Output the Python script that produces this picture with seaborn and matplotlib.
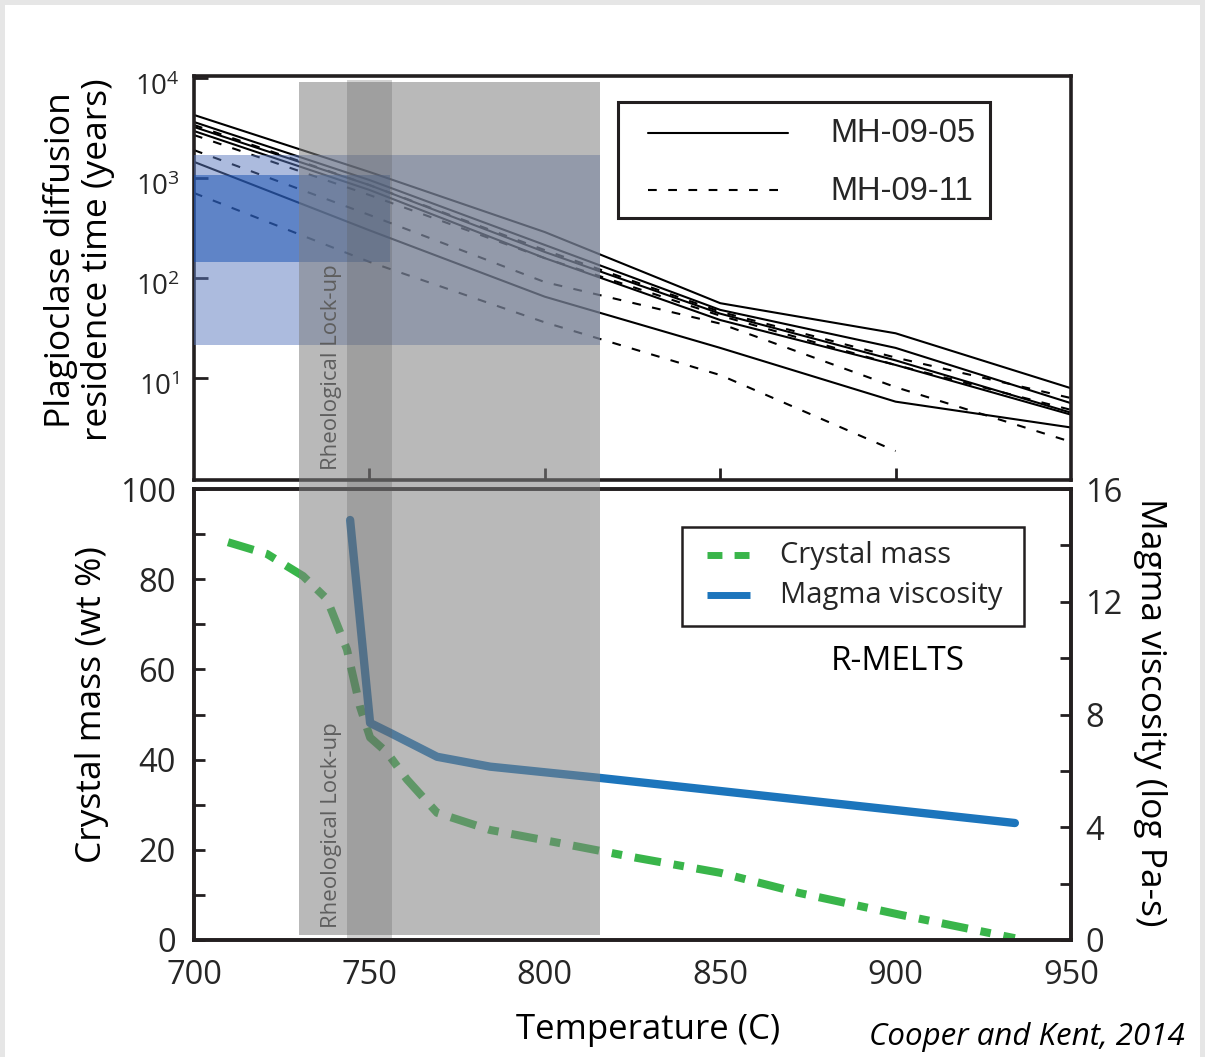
import matplotlib
matplotlib.use("Agg")
import matplotlib.pyplot as plt
import matplotlib.transforms as mtransforms
from matplotlib.patches import Rectangle
from matplotlib.lines import Line2D
from matplotlib.ticker import FixedLocator, MultipleLocator, NullLocator
import pandas as pd
import seaborn as sns

# ---------------- data ----------------
temperature_c = [700, 750, 800, 850, 900, 950]
mh0905_a = [4270, 1150, 288, 56, 28, 7.9]
mh0905_b = [3630, 955, 214, 48, 20, 5.6]
mh0905_c = [3240, 850, 182, 44, 15, 4.5]
mh0905_d = [2950, 760, 158, 38, 13.5, 4.3]
mh0905_e = [1450, 300, 65, 20, 5.8, 3.2]
mh0911_a = [3390, 850, 190, 46, 16, 6.3]
mh0911_b = [2690, 676, 158, 42, 13.5, 4.8]
mh0911_c = [1900, 427, 91, 35, 8.1, 2.3]
mh0911_d = [708, 145, 36, 10.7, 1.86]          # ends at 900 C

crystal_temp_c = [709.7, 720.8, 731.1, 737.9, 743.6, 747.3, 750.2, 755.0, 760.7,
                  769.3, 784.4, 803.5, 826.3, 850.0, 872.7, 901.3, 934.0]
crystal_mass_wt = [88.2, 85.6, 80.7, 75.6, 64.4, 51.8, 44.9, 41.6, 35.6,
                   28.2, 24.4, 21.6, 18.2, 14.9, 10.4, 5.6, 0.4]
viscosity_temp_c = [744.5, 750.2, 755.9, 769.3, 784.4, 815.7, 934.0]
viscosity_log_pas = [14.9, 7.7, 7.35, 6.5, 6.15, 5.75, 4.15]

lockup_band_c = [729.9, 815.7]
lockup_core_c = [743.6, 756.4]
residence_box_c = [700, 815.7]
residence_box_yr = [21.4, 1700]
residence_core_c = [700, 755.9]
residence_core_yr = [145, 1070]

x_ticks = [700, 750, 800, 850, 900, 950]
top_labels = ["MH-09-05", "MH-09-11"]
bottom_labels = ["Crystal mass", "Magma viscosity"]

# ---------------- style ----------------
sns.set_style("white")
plt.rcParams["font.family"] = ["Open Sans", "DejaVu Sans"]
plt.rcParams["mathtext.default"] = "regular"
INK = "#231f20"
GREEN = "#39b54a"
BLUE = "#1c75bc"

W, H = 1205, 1057
fig = plt.figure(figsize=(W / 100, H / 100), dpi=100, facecolor="#e6e6e6")
fig.add_artist(Rectangle((5 / W, 0), (W - 10) / W, (H - 5) / H, transform=fig.transFigure,
                         facecolor="white", edgecolor="none", zorder=-5))


def fx(px):
    return px / W


def fy(py):
    return (H - py) / H


ax1 = fig.add_axes([fx(194), fy(480), fx(1071) - fx(194), fy(76) - fy(480)])
ax2 = fig.add_axes([fx(194), fy(940), fx(1071) - fx(194), fy(489) - fy(940)])
for a in (ax1, ax2):
    a.set_facecolor("white")

# ---------------- top panel ----------------
rows = []
for lid, sample, vals in [("a5", top_labels[0], mh0905_a), ("b5", top_labels[0], mh0905_b),
                          ("c5", top_labels[0], mh0905_c), ("d5", top_labels[0], mh0905_d),
                          ("e5", top_labels[0], mh0905_e), ("a11", top_labels[1], mh0911_a),
                          ("b11", top_labels[1], mh0911_b), ("c11", top_labels[1], mh0911_c),
                          ("d11", top_labels[1], mh0911_d)]:
    for t, v in zip(temperature_c, vals):
        rows.append({"T": t, "years": v, "line": lid, "sample": sample})
df_top = pd.DataFrame(rows)

ax1.set_yscale("log")
DASH = (4.2, 5.5)
sns.lineplot(data=df_top, x="T", y="years", units="line", style="sample",
             style_order=top_labels, estimator=None, color="black",
             lw=1.5, dashes={top_labels[0]: "", top_labels[1]: DASH}, legend=False,
             sort=False, ax=ax1)

ax1.add_patch(Rectangle((residence_box_c[0], residence_box_yr[0]),
                        residence_box_c[1] - residence_box_c[0],
                        residence_box_yr[1] - residence_box_yr[0],
                        facecolor=(90 / 255, 120 / 255, 190 / 255), alpha=0.5, lw=0, zorder=3))
ax1.add_patch(Rectangle((residence_core_c[0], residence_core_yr[0]),
                        residence_core_c[1] - residence_core_c[0],
                        residence_core_yr[1] - residence_core_yr[0],
                        facecolor=(20 / 255, 78 / 255, 178 / 255), alpha=0.5, lw=0, zorder=3))

ax1.set_xlim(700, 950)
ax1.set_ylim(10 ** -0.02, 10 ** 4.02)
ax1.yaxis.set_major_locator(FixedLocator([10, 100, 1000, 10000]))
ax1.yaxis.set_minor_locator(NullLocator())
ax1.xaxis.set_major_locator(FixedLocator([750, 800, 850, 900]))
ax1.tick_params(axis="x", direction="in", length=9, width=2, color=INK,
                labelbottom=False, bottom=True, top=False)
ax1.tick_params(axis="y", direction="in", length=10, width=2, color=INK,
                labelsize=20, pad=10, left=True, right=False)
ax1.set_xlabel("")
ax1.set_ylabel("")

# ---------------- bottom panel ----------------
sns.lineplot(x=crystal_temp_c, y=crystal_mass_wt, color=GREEN, lw=5.8,
             estimator=None, sort=False, ax=ax2)
ax2.lines[-1].set_dashes((3.3, 1.6, 1.3, 1.6))
ax2.lines[-1].set_solid_capstyle("butt")

ax3 = ax2.twinx()
sns.lineplot(x=viscosity_temp_c, y=viscosity_log_pas, color=BLUE, lw=6,
             estimator=None, sort=False, ax=ax3)

ax2.set_xlim(700, 950)
ax2.set_ylim(0, 100)
ax3.set_ylim(0, 16)
ax2.xaxis.set_major_locator(FixedLocator(x_ticks))
ax2.yaxis.set_major_locator(MultipleLocator(20))
ax2.yaxis.set_minor_locator(MultipleLocator(10))
ax3.yaxis.set_major_locator(MultipleLocator(4))
ax3.yaxis.set_minor_locator(MultipleLocator(2))
ax2.tick_params(axis="x", direction="in", length=8, width=2, color=INK,
                labelsize=23.5, pad=14, top=False)
ax2.tick_params(axis="y", which="both", direction="in", length=8, width=2, color=INK,
                labelsize=23.5, pad=13, right=False)
ax3.tick_params(axis="y", which="both", direction="in", length=8, width=2, color=INK,
                labelsize=23.5, pad=10)
for a in (ax2, ax3):
    a.set_xlabel("")
    a.set_ylabel("")

for a in (ax1, ax2, ax3):
    for s in a.spines.values():
        s.set_linewidth(2.6)
        s.set_color(INK)

# shift the log tick labels slightly down like the reference
shift = mtransforms.ScaledTranslation(0, -6 / 100, fig.dpi_scale_trans)
for lab in ax1.get_yticklabels():
    lab.set_transform(lab.get_transform() + shift)

# ---------------- legends (drawn as framed keys) ----------------
fig.add_artist(Rectangle((fx(618), fy(218)), fx(990) - fx(618), fy(102) - fy(218),
                         transform=fig.transFigure, facecolor="white", edgecolor=INK,
                         lw=2.2, zorder=7))
fig.add_artist(Line2D([fx(648), fx(788)], [fy(133), fy(133)], transform=fig.transFigure,
                      color="black", lw=1.5, zorder=8))
fig.add_artist(Line2D([fx(648), fx(788)], [fy(190), fy(190)], transform=fig.transFigure,
                      color="black", lw=1.5, dashes=DASH, zorder=8))
fig.text(fx(830), fy(134), top_labels[0], ha="left", va="center", family="Liberation Sans",
         fontsize=23.5, zorder=8)
fig.text(fx(830), fy(191), top_labels[1], ha="left", va="center", family="Liberation Sans",
         fontsize=23.5, zorder=8)

fig.add_artist(Rectangle((fx(682), fy(626)), fx(1024) - fx(682), fy(527) - fy(626),
                         transform=fig.transFigure, facecolor="white", edgecolor=INK,
                         lw=1.8, zorder=7))
fig.add_artist(Line2D([fx(707), fx(750)], [fy(555), fy(555)], transform=fig.transFigure,
                      color=GREEN, lw=5, dashes=(2.15, 1.75), solid_capstyle="butt",
                      dash_capstyle="butt", zorder=8))
fig.add_artist(Line2D([fx(707), fx(750)], [fy(595), fy(595)], transform=fig.transFigure,
                      color=BLUE, lw=5, solid_capstyle="butt", zorder=8))
fig.text(fx(780), fy(555), bottom_labels[0], ha="left", va="center", fontsize=21, zorder=8)
fig.text(fx(780), fy(595), bottom_labels[1], ha="left", va="center", fontsize=21, zorder=8)

# ---------------- shaded lock-up bands across both panels ----------------
trans = mtransforms.blended_transform_factory(ax2.transData, fig.transFigure)
fig.add_artist(Rectangle((lockup_band_c[0], fy(935)), lockup_band_c[1] - lockup_band_c[0],
                         fy(82) - fy(935), transform=trans, facecolor=(0.5, 0.5, 0.5),
                         alpha=0.55, lw=0, zorder=5))
fig.add_artist(Rectangle((lockup_core_c[0], fy(938)), lockup_core_c[1] - lockup_core_c[0],
                         fy(80) - fy(938), transform=trans, facecolor=(0.35, 0.35, 0.35),
                         alpha=0.27, lw=0, zorder=5))

fig.text(fx(331), fy(470), "Rheological Lock-up", rotation=90, ha="center", va="bottom",
         fontsize=16, color="#5e5e5e", zorder=6)
fig.text(fx(331), fy(928), "Rheological Lock-up", rotation=90, ha="center", va="bottom",
         fontsize=16, color="#5e5e5e", zorder=6)

# ---------------- texts ----------------
fig.text(fx(79), fy(260), "Plagioclase diffusion\nresidence time (years)", rotation=90,
         ha="center", va="center", fontsize=25.5, linespacing=1.12, color="black")
fig.text(fx(92), fy(705), "Crystal mass (wt %)", rotation=90, ha="center", va="center",
         fontsize=25.5, color="black")
fig.text(fx(1150), fy(712), "Magma viscosity (log Pa-s)", rotation=270, ha="center",
         va="center", fontsize=25.5, color="black")
fig.text(fx(648), fy(1030), "Temperature (C)", ha="center", va="center", fontsize=25,
         color="black")
fig.text(fx(898), fy(662), "R-MELTS", ha="center", va="center", fontsize=24, color="black")
fig.text(fx(1185), fy(1037), "Cooper and Kent, 2014", ha="right", va="center",
         fontsize=22.5, style="italic", color="black")

fig.savefig("out.png", dpi=100, facecolor=fig.get_facecolor())
